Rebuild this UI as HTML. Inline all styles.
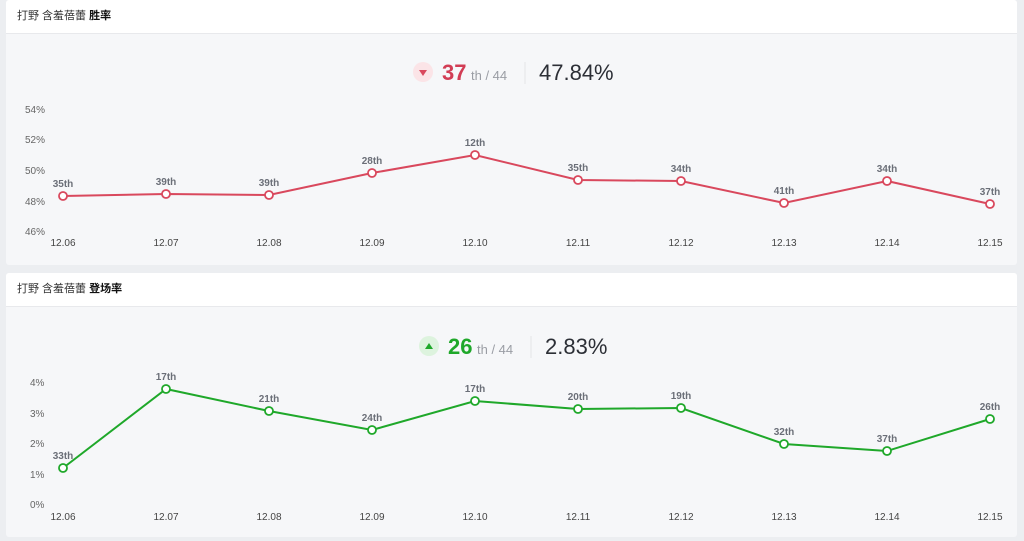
<!DOCTYPE html>
<html><head><meta charset="utf-8"><style>
body{margin:0;width:1024px;height:541px;background:#eceef1;font-family:"Liberation Sans","Noto Sans CJK SC",sans-serif;overflow:hidden;position:relative}
.p{position:absolute;left:6px;width:1011px;background:#f6f7f9;border-radius:3px;overflow:hidden}
.h{background:#fff;height:33px;line-height:33px;padding-left:11px;font-size:11px;color:#333;border-bottom:1px solid #e8e9ec}
.h b{color:#111}
svg{position:absolute;left:0;top:0}
</style></head><body>
<div class="p" style="top:0;height:265px"><div class="h">打野 含羞蓓蕾 <b>胜率</b></div></div>
<div class="p" style="top:273px;height:264px"><div class="h">打野 含羞蓓蕾 <b>登场率</b></div></div>
<svg width="1024" height="541" font-family="Liberation Sans, sans-serif">
<g font-size="10" fill="#666">
<text x="25" y="113">54%</text><text x="25" y="143">52%</text><text x="25" y="174">50%</text><text x="25" y="205">48%</text><text x="25" y="235">46%</text>
<text x="30" y="386">4%</text><text x="30" y="417">3%</text><text x="30" y="447">2%</text><text x="30" y="478">1%</text><text x="30" y="508">0%</text>
</g>
<g font-size="10" fill="#444" text-anchor="middle">
<text x="63" y="246">12.06</text><text x="166" y="246">12.07</text><text x="269" y="246">12.08</text><text x="372" y="246">12.09</text><text x="475" y="246">12.10</text><text x="578" y="246">12.11</text><text x="681" y="246">12.12</text><text x="784" y="246">12.13</text><text x="887" y="246">12.14</text><text x="990" y="246">12.15</text>
<text x="63" y="520">12.06</text><text x="166" y="520">12.07</text><text x="269" y="520">12.08</text><text x="372" y="520">12.09</text><text x="475" y="520">12.10</text><text x="578" y="520">12.11</text><text x="681" y="520">12.12</text><text x="784" y="520">12.13</text><text x="887" y="520">12.14</text><text x="990" y="520">12.15</text>
</g>
<polyline fill="none" stroke="#d9485d" stroke-width="2" points="63,196 166,194 269,195 372,173 475,155 578,180 681,181 784,203 887,181 990,204"/>
<g fill="#fff" stroke="#d9485d" stroke-width="1.8">
<circle cx="63" cy="196" r="4"/><circle cx="166" cy="194" r="4"/><circle cx="269" cy="195" r="4"/><circle cx="372" cy="173" r="4"/><circle cx="475" cy="155" r="4"/><circle cx="578" cy="180" r="4"/><circle cx="681" cy="181" r="4"/><circle cx="784" cy="203" r="4"/><circle cx="887" cy="181" r="4"/><circle cx="990" cy="204" r="4"/></g>
<g font-size="10" font-weight="bold" fill="#6b6f78" text-anchor="middle">
<text x="63" y="187">35th</text><text x="166" y="185">39th</text><text x="269" y="186">39th</text><text x="372" y="164">28th</text><text x="475" y="146">12th</text><text x="578" y="171">35th</text><text x="681" y="172">34th</text><text x="784" y="194">41th</text><text x="887" y="172">34th</text><text x="990" y="195">37th</text>
<text x="63" y="459">33th</text><text x="166" y="380">17th</text><text x="269" y="402">21th</text><text x="372" y="421">24th</text><text x="475" y="392">17th</text><text x="578" y="400">20th</text><text x="681" y="399">19th</text><text x="784" y="435">32th</text><text x="887" y="442">37th</text><text x="990" y="410">26th</text>
</g>
<polyline fill="none" stroke="#1fa82a" stroke-width="2" points="63,468 166,389 269,411 372,430 475,401 578,409 681,408 784,444 887,451 990,419"/>
<g fill="#fff" stroke="#1fa82a" stroke-width="1.8">
<circle cx="63" cy="468" r="4"/><circle cx="166" cy="389" r="4"/><circle cx="269" cy="411" r="4"/><circle cx="372" cy="430" r="4"/><circle cx="475" cy="401" r="4"/><circle cx="578" cy="409" r="4"/><circle cx="681" cy="408" r="4"/><circle cx="784" cy="444" r="4"/><circle cx="887" cy="451" r="4"/><circle cx="990" cy="419" r="4"/></g>
<circle cx="423" cy="72" r="10" fill="#fbe4e7"/><path d="M419,70 L427,70 L423,76Z" fill="#d9485d"/>
<text x="442" y="80" font-size="22" font-weight="bold" fill="#d23d55">37</text>
<text x="471" y="80" font-size="13" fill="#9a9da4">th / 44</text>
<line x1="525" y1="62" x2="525" y2="84" stroke="#e4e5e8"/>
<text x="539" y="80" font-size="22" fill="#2c2f36">47.84%</text>
<circle cx="429" cy="346" r="10" fill="#ddf3de"/><path d="M425,349 L433,349 L429,343Z" fill="#1fa82a"/>
<text x="448" y="354" font-size="22" font-weight="bold" fill="#1fa82a">26</text>
<text x="477" y="354" font-size="13" fill="#9a9da4">th / 44</text>
<line x1="531" y1="336" x2="531" y2="358" stroke="#e4e5e8"/>
<text x="545" y="354" font-size="22" fill="#2c2f36">2.83%</text>
</svg>
</body></html>
